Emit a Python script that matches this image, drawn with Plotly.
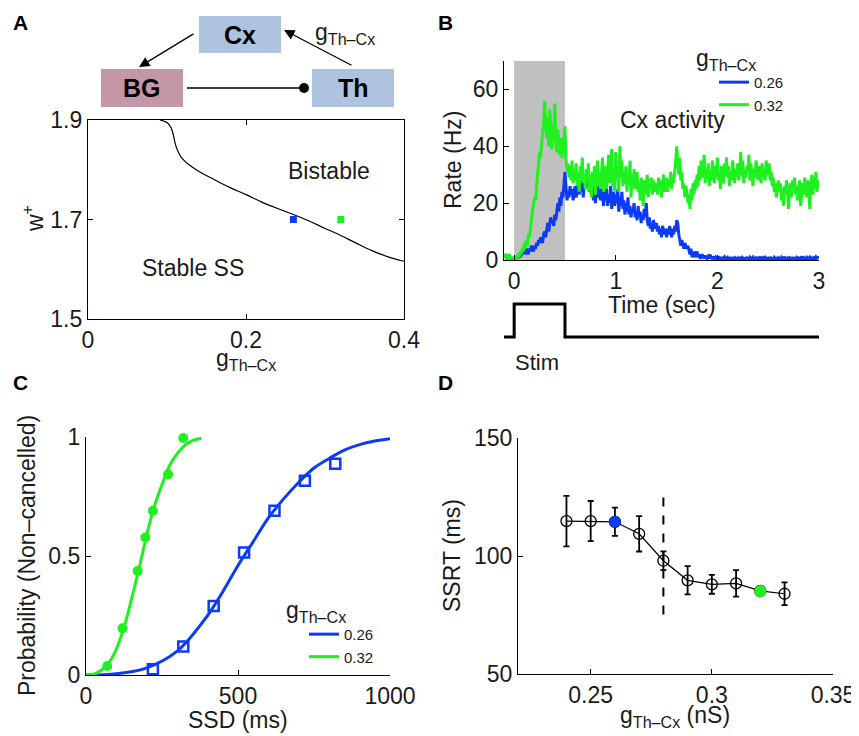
import numpy as np
import plotly.graph_objects as go

W, H = 859, 736          # browser window
OFF = 8                  # page body margin
FW, FH = W - OFF, H - OFF  # figure size so that it fits inside the window
FONT = "Liberation Sans, Arial, Helvetica, sans-serif"
TXT = "#1a1a1a"
BLUE = "#0b3bf5"
GREEN = "#1ff01f"

# ---------------- Panel A data ----------------
A_boundary_g = [0.091, 0.100, 0.105, 0.108, 0.110, 0.113, 0.118, 0.128, 0.140, 0.160,
                0.180, 0.200, 0.220, 0.240, 0.260, 0.280, 0.300, 0.320, 0.340, 0.360,
                0.380, 0.400]
A_boundary_w = [1.900, 1.895, 1.885, 1.870, 1.855, 1.840, 1.825, 1.810, 1.797, 1.780,
                1.764, 1.750, 1.735, 1.722, 1.710, 1.697, 1.682, 1.668, 1.652, 1.637,
                1.625, 1.616]
A_points_g = [0.26, 0.32]
A_points_w = [1.70, 1.70]
A_xticks = [0, 0.2, 0.4]
A_yticks = [1.5, 1.7, 1.9]

# ---------------- Panel B data (10 ms samples, -0.1 .. 3.0 s) ----------------
B_time = np.round(np.arange(-0.1, 3.0001, 0.01), 2)
B_rate_032 = [
    1, 2, 1, 0, 1, 2, 1, 0, 1, 0,
    0, 1, 0, 1, 2, 1, 3, 2, 4, 3,
    6, 4, 7, 5, 9, 8, 12, 14, 17, 19,
    22, 21, 27, 30, 33, 38, 36, 42, 45, 48,
    56, 47, 43, 50, 40, 53, 44, 39, 48, 42,
    55, 41, 38, 46, 39, 37, 43, 36, 38, 42,
    47, 36, 31, 34, 29, 33, 28, 35, 27, 31,
    28, 34, 26, 31, 24, 33, 29, 36, 27, 30,
    25, 32, 28, 34, 24, 30, 22, 31, 27, 33,
    23, 29, 35, 26, 31, 25, 30, 36, 24, 28,
    33, 25, 30, 37, 27, 32, 39, 26, 31, 24,
    38, 28, 33, 24, 40, 29, 35, 26, 31, 27,
    33, 24, 29, 27, 35, 22, 30, 26, 32, 25,
    28, 31, 24, 27, 21, 29, 25, 19, 28, 23,
    26, 30, 22, 27, 25, 29, 23, 28, 26, 24,
    27, 23, 29, 25, 28, 22, 27, 30, 24, 26,
    29, 24, 28, 26, 31, 25, 30, 27, 33, 35,
    40, 34, 30, 36, 28, 31, 25, 27, 22, 26,
    24, 20, 23, 18, 25, 21, 27, 23, 28, 25,
    30, 26, 33, 28, 35, 29, 31, 37, 27, 32,
    29, 34, 26, 31, 28, 35, 30, 27, 33, 29,
    36, 28, 31, 25, 33, 29, 27, 34, 30, 36,
    29, 33, 26, 31, 28, 35, 30, 27, 32, 29,
    34, 28, 31, 38, 30, 35, 27, 32, 29, 33,
    31, 37, 28, 34, 30, 26, 32, 29, 35, 31,
    28, 33, 30, 27, 34, 29, 32, 28, 35, 31,
    30, 34, 28, 31, 26, 29, 24, 27, 22, 26,
    28, 24, 27, 21, 25, 19, 26, 23, 28, 25,
    18, 24, 27, 22, 28, 25, 29, 23, 26, 21,
    25, 28, 19, 24, 27, 23, 29, 26, 22, 28,
    24, 18, 27, 30, 23, 29, 25, 31, 24, 28,
    26]
B_rate_026 = [
    1, 2, 1, 0, 1, 2, 0, 1, 0, 1,
    0, 1, 0, 1, 1, 2, 1, 2, 3, 2,
    3, 2, 4, 3, 2, 4, 3, 5, 4, 3,
    5, 4, 6, 5, 7, 6, 8, 7, 6, 9,
    10, 8, 11, 13, 10, 12, 15, 13, 14, 12,
    16, 14, 18, 20, 17, 22, 19, 24, 22, 26,
    31, 26, 21, 24, 22, 26, 23, 25, 21, 24,
    26, 22, 25, 27, 23, 26, 24, 28, 22, 27,
    25, 29, 26, 28, 24, 27, 23, 26, 21, 24,
    20, 25, 22, 27, 23, 21, 26, 22, 19, 24,
    21, 25, 19, 23, 20, 26, 18, 22, 24, 19,
    23, 20, 25, 17, 22, 19, 24, 18, 21, 16,
    20, 17, 22, 16, 19, 15, 18, 17, 20, 15,
    17, 14, 19, 15, 17, 13, 16, 14, 18, 15,
    20, 14, 12, 15, 11, 13, 10, 14, 12, 11,
    13, 10, 12, 9, 11, 8, 12, 10, 9, 11,
    8, 11, 9, 12, 10, 8, 11, 9, 12, 10,
    14, 13, 9, 6, 5, 7, 5, 4, 6, 5,
    4, 5, 3, 2, 4, 1, 2, 3, 1, 2,
    3, 1, 2, 0.5, 1, 2, 1, 0.5, 1.5, 1,
    0.5, 1, 2, 0.5, 1, 0.3, 1.2, 0.5, 1, 0.4,
    1.3, 0.5, 0.8, 0.2, 1, 0.4, 0.7, 1.1, 0.3, 0.6,
    0.9, 0.2, 0.6, 0.4, 1, 0.3, 0.5, 0.8, 0.2, 0.6,
    0.3, 0.7, 0.2, 0.5, 0.9, 0.3, 0.6, 0.2, 0.4, 0.8,
    0.5, 0.2, 0.9, 0.4, 0.6, 1.0, 0.3, 0.5, 0.8, 0.4,
    0.7, 0.3, 1.1, 0.5, 0.2, 0.8, 0.4, 0.9, 0.3, 0.6,
    0.4, 1.0, 0.3, 0.7, 0.5, 0.2, 0.9, 0.4, 0.6, 0.3,
    0.8, 0.5, 0.2, 0.9, 0.4, 0.6, 1.1, 0.3, 0.5, 0.7,
    0.3, 0.8, 0.5, 0.2, 1.0, 0.4, 0.6, 0.3, 0.9, 0.5,
    0.7, 0.3, 0.6, 1.2, 0.4, 0.8, 0.2, 0.5, 0.9, 0.3,
    0.6, 1.0, 0.4, 0.7, 0.3, 0.8, 0.5, 1.1, 0.6, 0.9,
    0.7]
B_xticks = [0, 1, 2, 3]
B_yticks = [0, 20, 40, 60]
STIM_ON, STIM_OFF = 0.0, 0.5
Stim_t = [-0.1, STIM_ON, STIM_ON, STIM_OFF, STIM_OFF, 3.0]
Stim_v = [0, 0, 1, 1, 0, 0]

# ---------------- Panel C data ----------------
C_ssd_026 = [220, 320, 420, 520, 620, 720, 820]
C_p_026 = [0.024, 0.12, 0.29, 0.515, 0.69, 0.816, 0.888]
C_ssd_032 = [70, 120, 170, 195, 220, 270, 320]
C_p_032 = [0.038, 0.196, 0.437, 0.578, 0.69, 0.843, 0.996]
C_fit_x_026 = [0, 100, 200, 300, 400, 450, 500, 550, 600, 650, 700, 750, 800, 850, 900, 950, 1000]
C_fit_y_026 = [0, 0.005, 0.03, 0.10, 0.25, 0.35, 0.46, 0.56, 0.66, 0.74, 0.81, 0.87, 0.91, 0.945, 0.968, 0.983, 0.993]
C_fit_x_032 = [0, 25, 50, 75, 100, 125, 150, 175, 200, 225, 250, 275, 300, 325, 350, 380]
C_fit_y_032 = [0, 0.003, 0.02, 0.05, 0.11, 0.20, 0.32, 0.45, 0.59, 0.71, 0.80, 0.88, 0.93, 0.965, 0.985, 0.995]
C_xticks = [0, 500, 1000]
C_yticks = [0, 0.5, 1]

# ---------------- Panel D data ----------------
D_g = [0.24, 0.25, 0.26, 0.27, 0.28, 0.29, 0.30, 0.31, 0.32, 0.33]
D_ssrt = [114.8, 114.8, 114.5, 109.4, 98.0, 89.7, 88.0, 88.4, 85.2, 84.0]
D_err = [10.7, 8.5, 6.0, 7.5, 4.0, 6.0, 4.0, 5.6, 1.0, 4.8]
D_blue_idx, D_green_idx = 2, 8
D_transition_g = 0.28
D_transition_y = [75.2, 125.4]
D_xticks = [0.25, 0.3, 0.35]
D_yticks = [50, 100, 150]


def px(x):
    return (x - OFF) / FW


def py(y):
    return 1 - (y - OFF) / FH


fig = go.Figure()

# Panel A
fig.add_trace(go.Scatter(x=A_boundary_g, y=A_boundary_w, mode="lines", line=dict(color="black", width=1.2, shape="spline"),
                         xaxis="x", yaxis="y", showlegend=False))
fig.add_trace(go.Scatter(x=A_points_g, y=A_points_w, mode="markers",
                         marker=dict(symbol="square", size=7, color=[BLUE, GREEN]),
                         xaxis="x", yaxis="y", showlegend=False))

# Panel B
fig.add_trace(go.Scatter(x=B_time, y=B_rate_026, mode="lines", line=dict(color=BLUE, width=3), name="0.26",
                         xaxis="x2", yaxis="y2", legend="legend"))
fig.add_trace(go.Scatter(x=B_time, y=B_rate_032, mode="lines", line=dict(color=GREEN, width=3), name="0.32",
                         xaxis="x2", yaxis="y2", legend="legend"))
fig.add_trace(go.Scatter(x=Stim_t, y=Stim_v, mode="lines", line=dict(color="black", width=3),
                         xaxis="x3", yaxis="y3", showlegend=False))

# Panel C
fig.add_trace(go.Scatter(x=C_fit_x_026, y=C_fit_y_026, mode="lines", line=dict(color=BLUE, width=3, shape="spline"),
                         name="0.26", xaxis="x4", yaxis="y4", legend="legend2"))
fig.add_trace(go.Scatter(x=C_fit_x_032, y=C_fit_y_032, mode="lines", line=dict(color=GREEN, width=3, shape="spline"),
                         name="0.32", xaxis="x4", yaxis="y4", legend="legend2"))
fig.add_trace(go.Scatter(x=C_ssd_026, y=C_p_026, mode="markers",
                         marker=dict(symbol="square-open", size=10, color=BLUE, line=dict(width=2.5)),
                         xaxis="x4", yaxis="y4", showlegend=False, cliponaxis=False))
fig.add_trace(go.Scatter(x=C_ssd_032, y=C_p_032, mode="markers",
                         marker=dict(symbol="circle", size=10, color=GREEN),
                         xaxis="x4", yaxis="y4", showlegend=False, cliponaxis=False))

# Panel D
fig.add_trace(go.Scatter(x=[D_transition_g, D_transition_g], y=D_transition_y, mode="lines",
                         line=dict(color="black", width=2, dash="dash"), xaxis="x5", yaxis="y5", showlegend=False))
fig.add_trace(go.Scatter(x=D_g, y=D_ssrt, mode="lines+markers",
                         line=dict(color="black", width=1.2),
                         marker=dict(symbol="circle-open", size=11, color="black", line=dict(width=1.3)),
                         error_y=dict(type="data", array=D_err, visible=True, color="black", thickness=1.8, width=3),
                         xaxis="x5", yaxis="y5", showlegend=False))
fig.add_trace(go.Scatter(x=[D_g[D_blue_idx], D_g[D_green_idx]], y=[D_ssrt[D_blue_idx], D_ssrt[D_green_idx]],
                         mode="markers", marker=dict(symbol="circle", size=12, color=[BLUE, GREEN]),
                         xaxis="x5", yaxis="y5", showlegend=False))

tickfont = dict(family=FONT, size=23, color=TXT)
axis_common = dict(showgrid=False, zeroline=False, showline=True, linecolor="black", linewidth=1.3,
                   ticks="inside", ticklen=5, tickwidth=1.2, tickcolor="black", tickfont=tickfont,
                   automargin=False)


def dom_x(a, b):
    return [px(a), px(b)]


def dom_y(top, bottom):
    return [py(bottom), py(top)]


legend_common = dict(xanchor="left", yanchor="top", bgcolor="rgba(0,0,0,0)",
                     font=dict(family=FONT, size=15, color=TXT), tracegroupgap=0, indentation=20,
                     title=dict(text="g<sub>Th\u2013Cx</sub>", font=dict(family=FONT, size=23, color=TXT)))

fig.update_layout(
    template="none",
    width=FW, height=FH, margin=dict(l=0, r=0, t=0, b=0, pad=0), autosize=False,
    paper_bgcolor="white", plot_bgcolor="rgba(0,0,0,0)",
    font=dict(family=FONT, color=TXT),
    xaxis=dict(axis_common, domain=dom_x(88, 404), range=[0, 0.4], tickvals=A_xticks, ticktext=["0", "0.2", "0.4"],
               anchor="y", mirror="ticks"),
    yaxis=dict(axis_common, domain=dom_y(120, 319), range=[1.5, 1.9], tickvals=A_yticks, ticktext=["1.5", "1.7", "1.9"],
               anchor="x", mirror="ticks"),
    xaxis2=dict(axis_common, domain=dom_x(504, 819), range=[-0.1, 3], tickvals=B_xticks, anchor="y2"),
    yaxis2=dict(axis_common, domain=dom_y(61, 260), range=[0, 70], tickvals=B_yticks, anchor="x2"),
    xaxis3=dict(domain=dom_x(504, 819), range=[-0.1, 3], visible=False, anchor="y3", automargin=False),
    yaxis3=dict(domain=dom_y(300, 340), range=[-0.09, 1.12], visible=False, anchor="x3", automargin=False),
    xaxis4=dict(axis_common, domain=dom_x(86, 390), range=[0, 1000], tickvals=C_xticks, anchor="y4"),
    yaxis4=dict(axis_common, domain=dom_y(437, 675), range=[0, 1], tickvals=C_yticks, ticktext=["0", "0.5", "1"], anchor="x4"),
    xaxis5=dict(axis_common, domain=dom_x(518, 833), range=[0.22, 0.35], tickvals=D_xticks, ticktext=["0.25", "0.3", "0.35"], anchor="y5"),
    yaxis5=dict(axis_common, domain=dom_y(438, 674), range=[50, 150], tickvals=D_yticks, anchor="x5"),
    legend=dict(legend_common, x=px(694), y=py(36)),
    legend2=dict(legend_common, x=px(284), y=py(588)),
)

shapes = []
# Panel B stimulus window
shapes.append(dict(type="rect", xref="x2", yref="y2", x0=STIM_ON, x1=STIM_OFF, y0=0, y1=70,
                   fillcolor="#c0c0c0", line=dict(width=0), layer="below"))
# Panel A diagram boxes
for (x0, y0, x1, y1, col) in [(199, 16, 281, 53, "#adc3e0"), (101, 69, 183, 107, "#c497a8"), (312, 69, 394, 107, "#adc3e0")]:
    shapes.append(dict(type="rect", xref="paper", yref="paper", x0=px(x0), x1=px(x1), y0=py(y1), y1=py(y0),
                       fillcolor=col, line=dict(width=0)))
shapes.append(dict(type="line", xref="paper", yref="paper", x0=px(187), x1=px(304), y0=py(88), y1=py(88),
                   line=dict(color="black", width=1.3)))
shapes.append(dict(type="circle", xref="paper", yref="paper", xsizemode="pixel", ysizemode="pixel",
                   xanchor=px(304), yanchor=py(88), x0=-5, x1=5, y0=-5, y1=5,
                   fillcolor="black", line=dict(width=0)))
fig.update_layout(shapes=shapes)

ann = []


def text(x, y, s, size=23, bold=False, angle=0, xanchor="center"):
    ann.append(dict(x=px(x), y=py(y), xref="paper", yref="paper", text=("<b>%s</b>" % s) if bold else s,
                    showarrow=False, font=dict(family=FONT, size=size, color=TXT if not bold else "black"),
                    textangle=angle, xanchor=xanchor, yanchor="middle"))


# panel letters
text(20, 22, "A", 21, True)
text(445, 22, "B", 21, True)
text(20, 383, "C", 21, True)
text(445, 383, "D", 21, True)
# diagram labels
text(240, 35, "Cx", 25, True)
text(142, 88, "BG", 25, True)
text(353, 88, "Th", 25, True)
text(313, 34, "g<sub>Th\u2013Cx</sub>", 23, xanchor="left")
ann.append(dict(x=px(139), y=py(67), xref="paper", yref="paper", ax=56, ay=-34, showarrow=True,
                arrowhead=2, arrowsize=1.6, arrowwidth=1.3, arrowcolor="black", text=""))
ann.append(dict(x=px(284), y=py(30), xref="paper", yref="paper", ax=69, ay=36, showarrow=True,
                arrowhead=2, arrowsize=1.6, arrowwidth=1.3, arrowcolor="black", text=""))
# Panel A texts
text(329, 171, "Bistable", 23)
text(193, 268, "Stable SS", 23)
text(33, 219, "w<sup>+</sup>", 23, angle=-90)
text(246, 359, "g<sub>Th\u2013Cx</sub>", 23)
# Panel B texts
text(453, 160, "Rate (Hz)", 23, angle=-90)
text(662, 305, "Time (sec)", 23)
text(672, 120, "Cx activity", 23)
text(537, 362, "Stim", 22)
# Panel C texts
text(27, 556, "Probability (Non\u2013cancelled)", 23, angle=-90)
text(238, 720, "SSD (ms)", 23)
# Panel D texts
text(452, 556, "SSRT (ms)", 23, angle=-90)
text(675, 716, "g<sub>Th\u2013Cx</sub> (nS)", 23)
fig.update_layout(annotations=ann)

fig.write_html("out.html")
